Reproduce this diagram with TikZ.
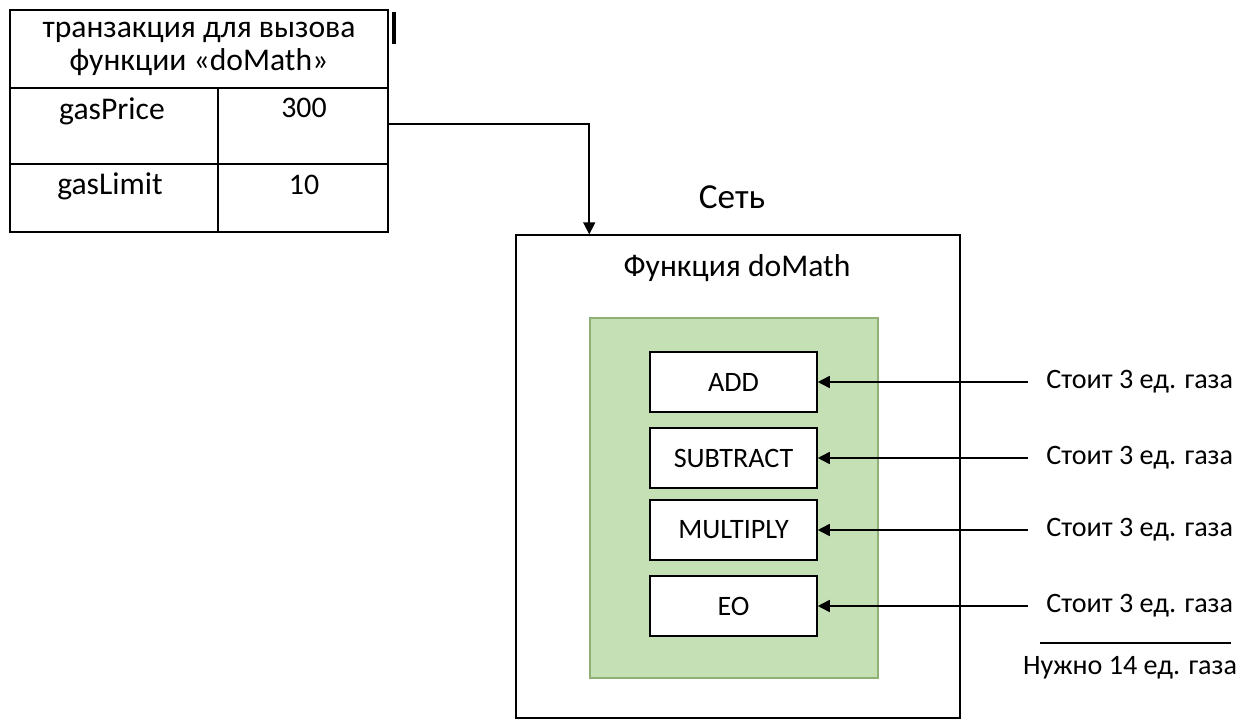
\documentclass[tikz,border=0pt]{standalone}
\usepackage{fontspec}
\setmainfont{Carlito}
\usepackage{tikz}
\usetikzlibrary{arrows.meta,positioning}
\definecolor{opgreen}{HTML}{C5E0B4}
\definecolor{ringgreen}{HTML}{8FAF74}
\begin{document}
\begin{tikzpicture}[x=0.02cm,y=-0.02cm,>={Triangle[length=0.24cm,width=0.24cm]},
  every node/.style={font=\fontsize{16}{19}\selectfont},
  cell/.style={font=\fontsize{18}{19}\selectfont},
  opbox/.style={draw,fill=white,line width=0.9pt,minimum width=3.34cm,minimum height=1.2cm,inner sep=0pt},
  cost/.style={anchor=west,inner xsep=0.36cm,inner ysep=0pt},
  link/.style={->,line width=0.9pt}]
  \useasboundingbox (0,0) rectangle (1245,720);

  % Transaction table.
  \draw[line width=0.9pt] (10,10) rectangle (388,232);
  \draw[line width=0.9pt] (10,88) -- (388,88) (10,164) -- (388,164) (218,88) -- (218,232);
  \node[cell,align=center] (txhead) at (199,49) {транзакция для вызова\\функции «doMath»};
  \node[cell] (pricekey) at (112,111) {gasPrice};
  \node (priceval) at (304,108) {\fontsize{17}{19}\selectfont 300};
  \node[cell] (limitkey) at (110,186) {gasLimit};
  \node (limitval) at (304,185) {\fontsize{17}{19}\selectfont 10};
  \coordinate (txout) at (388,124);
  % Text cursor.
  \draw[line width=2pt] (394,12) -- (394,44);

  % Network with the function.
  \node (netlabel) at (732,197) {\fontsize{20}{24}\selectfont Сеть};
  \node[draw,line width=0.8pt,minimum width=8.88cm,minimum height=9.66cm,inner sep=0pt] (net) at (738,476.5) {};
  \node[cell] (fnlabel) at (737,268) {Функция doMath};
  \node[draw=ringgreen,fill=opgreen,line width=0.9pt,minimum width=5.76cm,minimum height=7.2cm,inner sep=0pt] (ops) at (734,498) {};

  % Operations.
  \node[opbox] (add) at (733.5,382) {ADD};
  \node[opbox] (sub) at (733.5,458) {SUBTRACT};
  \node[opbox] (mul) at (733.5,530) {MULTIPLY};
  \node[opbox] (eo) at (733.5,606) {EO};

  % Gas costs.
  \node[cost] (cost1) at (1028,382) {Стоит 3 ед. газа};
  \node[cost] (cost2) at (1028,458) {Стоит 3 ед. газа};
  \node[cost] (cost3) at (1028,530) {Стоит 3 ед. газа};
  \node[cost] (cost4) at (1028,606) {Стоит 3 ед. газа};
  \draw[link] (cost1) -- (add);
  \draw[link] (cost2) -- (sub);
  \draw[link] (cost3) -- (mul);
  \draw[link] (cost4) -- (eo);
  \draw[line width=0.8pt] (1040,643) -- (1231,643);
  \node (total) at (1130,668) {Нужно 14 ед. газа};

  % Transaction sent to the network.
  \draw[link] (txout) -| (ops.west |- net.north);
\end{tikzpicture}
\end{document}
